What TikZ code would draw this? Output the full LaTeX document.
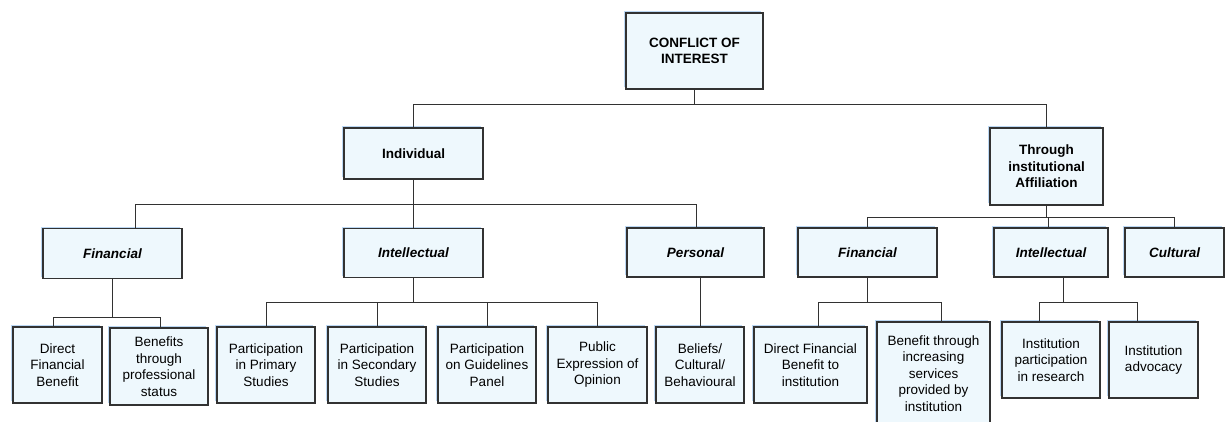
\documentclass[tikz,border=0pt]{standalone}
\usepackage{fontspec}
\setmainfont{Liberation Sans}
\usetikzlibrary{shadows}
\definecolor{boxfill}{RGB}{238,248,253}
\definecolor{boxline}{RGB}{50,50,50}
\definecolor{glow}{RGB}{170,205,240}
\tikzset{box/.style={draw=boxline, line width=1.2pt, fill=boxfill, align=center, inner sep=0pt,
            drop shadow={shadow xshift=-2pt, shadow yshift=2pt, fill=glow, opacity=0.8},
            font=\fontsize{13.5}{16.5}\selectfont},
         topbox/.style={box, font=\fontsize{13.5}{16.5}\selectfont\bfseries},
         catbox/.style={box, font=\fontsize{13.5}{16.5}\selectfont\bfseries\itshape},
         link/.style={draw=boxline, line width=1pt}
}
\begin{document}
\begin{tikzpicture}[x=1pt,y=-1pt]
\useasboundingbox (0,0) rectangle (1227,421);
\coordinate (b0) at (0,104);
\coordinate (b1) at (0,204);
\coordinate (b2) at (0,217);
\coordinate (b3) at (0,317);
\coordinate (b4) at (0,302);
\node[topbox, minimum width=137pt, minimum height=76pt] (coi) at (694.5,51) {CONFLICT OF\\INTEREST};
\node[topbox, minimum width=139pt, minimum height=51pt] (ind) at (413.5,153.5) {Individual};
\node[topbox, minimum width=113pt, minimum height=77pt] (inst) at (1046.5,166.5) {Through\\institutional\\Affiliation};
\node[catbox, minimum width=139pt, minimum height=50pt] (fina) at (112.5,253.5) {Financial};
\node[catbox, minimum width=139pt, minimum height=49pt] (intela) at (413.5,253) {Intellectual};
\node[catbox, minimum width=137pt, minimum height=49pt] (pers) at (695.5,252.5) {Personal};
\node[catbox, minimum width=139pt, minimum height=49pt] (finb) at (867.5,252.5) {Financial};
\node[catbox, minimum width=114pt, minimum height=49pt] (intelb) at (1051,252.5) {Intellectual};
\node[catbox, minimum width=99pt, minimum height=49pt] (cult) at (1174.5,252.5) {Cultural};
\node[box, minimum width=89pt, minimum height=76pt] (dfb) at (57.5,365) {Direct\\Financial\\Benefit};
\node[box, minimum width=98pt, minimum height=77pt] (bps) at (159,366.5) {Benefits\\through\\professional\\status};
\node[box, minimum width=98pt, minimum height=76pt] (pps) at (266,365) {Participation\\in Primary\\Studies};
\node[box, minimum width=98pt, minimum height=76pt] (pss) at (377,365) {Participation\\in Secondary\\Studies};
\node[box, minimum width=98pt, minimum height=76pt] (pgp) at (487,365) {Participation\\on Guidelines\\Panel};
\node[box, minimum width=99pt, minimum height=76pt] (peo) at (597.5,365) {Public\\Expression of\\Opinion};
\node[box, minimum width=88pt, minimum height=76pt] (bcb) at (700,365) {Beliefs/\\Cultural/\\Behavioural};
\node[box, minimum width=113pt, minimum height=76pt] (dfbi) at (810.5,365) {Direct Financial\\Benefit to\\institution};
\node[box, minimum width=113pt, minimum height=103pt] (bis) at (933.5,373.5) {Benefit through\\increasing\\services\\provided by\\institution};
\node[box, minimum width=98pt, minimum height=76pt] (ipr) at (1051,360) {Institution\\participation\\in research};
\node[box, minimum width=89pt, minimum height=76pt] (ia) at (1153.5,360) {Institution\\advocacy};
\draw[link] (coi.south) -- (coi.south |- b0);
\draw[link] (ind.north) -- (ind.north |- b0) -| (inst.north);
\draw[link] (ind.south) -- (ind.south |- b1);
\draw[link] ([xshift=23pt]fina.north) -- ([xshift=23pt]fina.north |- b1) -| ([xshift=1pt]pers.north);
\draw[link] (intela.north) -- (intela.north |- b1);
\draw[link] (inst.south) -- (inst.south |- b2);
\draw[link] (finb.north) -- (finb.north |- b2) -| (cult.north);
\draw[link] ([xshift=-3pt]intelb.north) -- ([xshift=-3pt]intelb.north |- b2);
\draw[link] (fina.south) -- (fina.south |- b3);
\draw[link] ([xshift=-4.5pt]dfb.north) -- ([xshift=-4.5pt]dfb.north |- b3) -| ([xshift=1pt]bps.north);
\draw[link] (intela.south) -- (intela.south |- b4);
\draw[link] (pps.north) -- (pps.north |- b4) -| (peo.north);
\draw[link] (pss.north) -- (pss.north |- b4);
\draw[link] (pgp.north) -- (pgp.north |- b4);
\draw[link] (pers.south -| bcb.north) -- (bcb.north);
\draw[link] (finb.south) -- (finb.south |- b4);
\draw[link] ([xshift=7.5pt]dfbi.north) -- ([xshift=7.5pt]dfbi.north |- b4) -| ([xshift=7.5pt]bis.north);
\draw[link] ([xshift=12pt]intelb.south) -- ([xshift=12pt]intelb.south |- b4);
\draw[link] ([xshift=-12pt]ipr.north) -- ([xshift=-12pt]ipr.north |- b4) -| ([xshift=-16.5pt]ia.north);
\end{tikzpicture}
\end{document}
